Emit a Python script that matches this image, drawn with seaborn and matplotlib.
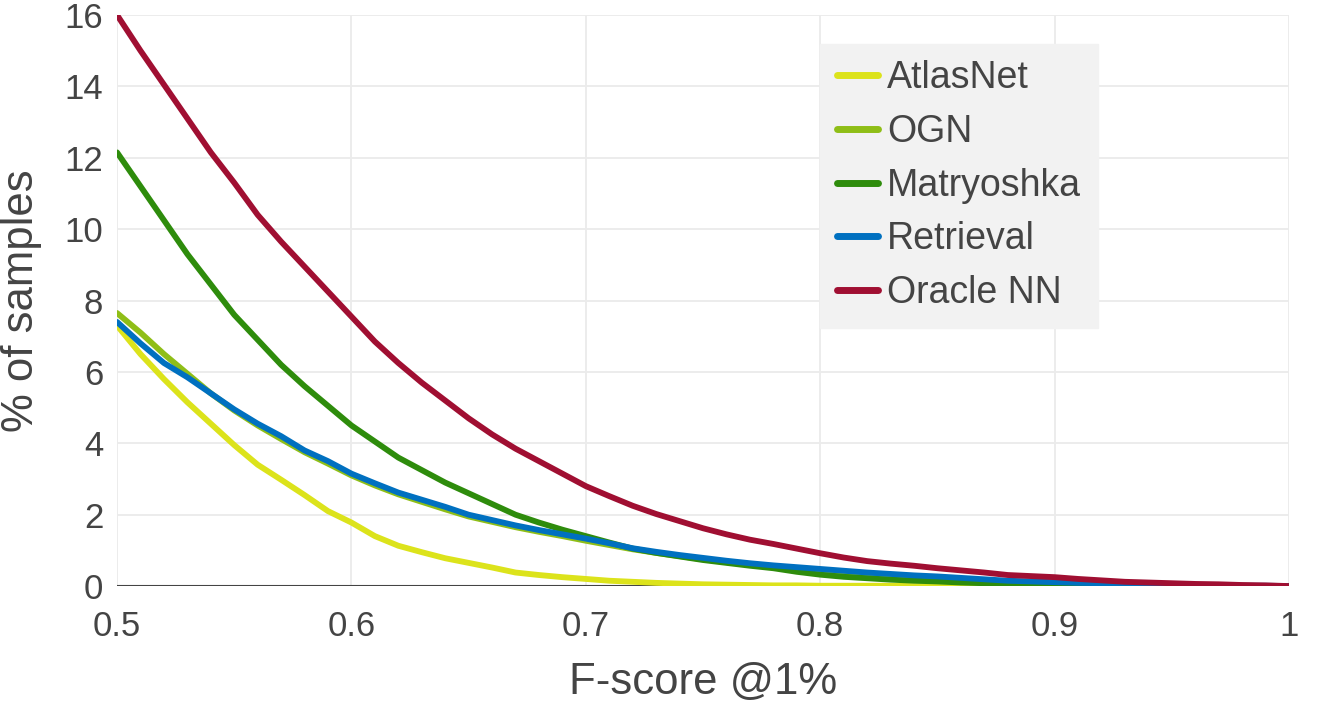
import numpy as np
import pandas as pd
import matplotlib
matplotlib.use("Agg")
import matplotlib.pyplot as plt
import seaborn as sns

fscore = [0.50, 0.51, 0.52, 0.53, 0.54, 0.55, 0.56, 0.57, 0.58, 0.59,
          0.60, 0.61, 0.62, 0.63, 0.64, 0.65, 0.66, 0.67, 0.68, 0.69,
          0.70, 0.71, 0.72, 0.73, 0.74, 0.75, 0.76, 0.77, 0.78, 0.79,
          0.80, 0.81, 0.82, 0.83, 0.84, 0.85, 0.86, 0.87, 0.88, 0.89,
          0.90, 0.91, 0.92, 0.93, 0.94, 0.95, 0.96, 0.97, 0.98, 0.99, 1.00]

atlasnet = [7.3, 6.5, 5.8, 5.15, 4.55, 3.95, 3.4, 2.98, 2.55, 2.1,
            1.78, 1.4, 1.13, 0.95, 0.78, 0.65, 0.52, 0.38, 0.31, 0.25,
            0.2, 0.15, 0.12, 0.09, 0.07, 0.05, 0.04, 0.03, 0.02, 0.02,
            0.01, 0.01, 0.01, 0.01, 0.0, 0.0, 0.0, 0.0, 0.0, 0.0,
            0.0, 0.0, 0.0, 0.0, 0.0, 0.0, 0.0, 0.0, 0.0, 0.0, 0.0]

ogn = [7.65, 7.1, 6.5, 5.95, 5.4, 4.92, 4.5, 4.12, 3.75, 3.43,
       3.1, 2.82, 2.57, 2.36, 2.15, 1.95, 1.8, 1.65, 1.52, 1.4,
       1.27, 1.15, 1.03, 0.93, 0.84, 0.75, 0.67, 0.6, 0.53, 0.47,
       0.41, 0.35, 0.3, 0.26, 0.22, 0.19, 0.16, 0.13, 0.11, 0.09,
       0.07, 0.06, 0.05, 0.04, 0.03, 0.02, 0.02, 0.01, 0.01, 0.0, 0.0]

matryoshka = [12.15, 11.2, 10.25, 9.3, 8.45, 7.6, 6.9, 6.2, 5.6, 5.05,
              4.5, 4.05, 3.6, 3.25, 2.9, 2.6, 2.3, 2.0, 1.78, 1.58,
              1.4, 1.22, 1.05, 0.93, 0.83, 0.73, 0.65, 0.57, 0.5, 0.4,
              0.32, 0.26, 0.22, 0.18, 0.15, 0.13, 0.1, 0.08, 0.07, 0.06,
              0.05, 0.04, 0.03, 0.02, 0.02, 0.01, 0.01, 0.01, 0.0, 0.0, 0.0]

retrieval = [7.4, 6.8, 6.25, 5.85, 5.4, 4.95, 4.55, 4.2, 3.8, 3.5,
             3.15, 2.88, 2.62, 2.42, 2.22, 2.0, 1.85, 1.7, 1.57, 1.45,
             1.33, 1.2, 1.06, 0.96, 0.87, 0.79, 0.71, 0.64, 0.58, 0.53,
             0.48, 0.43, 0.38, 0.34, 0.3, 0.27, 0.23, 0.19, 0.15, 0.13,
             0.11, 0.09, 0.08, 0.06, 0.05, 0.04, 0.03, 0.02, 0.01, 0.01, 0.0]

oracle_nn = [16.0, 15.0, 14.05, 13.1, 12.15, 11.3, 10.4, 9.65, 8.95, 8.25,
             7.55, 6.85, 6.25, 5.7, 5.2, 4.7, 4.25, 3.85, 3.5, 3.15,
             2.8, 2.52, 2.25, 2.02, 1.82, 1.62, 1.45, 1.3, 1.18, 1.05,
             0.92, 0.8, 0.7, 0.63, 0.57, 0.5, 0.44, 0.38, 0.31, 0.28,
             0.25, 0.2, 0.16, 0.12, 0.1, 0.08, 0.06, 0.05, 0.03, 0.02, 0.0]

series_names = ["AtlasNet", "OGN", "Matryoshka", "Retrieval", "Oracle NN"]
series_values = [atlasnet, ogn, matryoshka, retrieval, oracle_nn]
colors = ["#dce31b", "#8fbe17", "#2e8c0c", "#0070c0", "#a00f32"]

x_ticks = [0.5, 0.6, 0.7, 0.8, 0.9, 1.0]
x_tick_labels = ["0.5", "0.6", "0.7", "0.8", "0.9", "1"]
y_ticks = [0, 2, 4, 6, 8, 10, 12, 14, 16]

frames = []
for name, vals in zip(series_names, series_values):
    frames.append(pd.DataFrame({"F-score": fscore, "pct": vals, "method": name}))
df = pd.concat(frames, ignore_index=True)

sns.set_theme(style="white")
plt.rcParams['font.family'] = ['Liberation Sans', 'DejaVu Sans']

fig = plt.figure(figsize=(13.21, 7.13), dpi=100)
ax = fig.add_axes([0.0886, 0.178, 0.8872, 0.801])

text_color = "#444444"

sns.lineplot(data=df, x="F-score", y="pct", hue="method",
             hue_order=series_names, palette=colors, linewidth=4.2,
             ax=ax, legend=True, zorder=3)

ax.set_xlim(0.5, 1.0)
ax.set_ylim(0, 16)
ax.set_xticks(x_ticks)
ax.set_xticklabels(x_tick_labels)
ax.set_yticks(y_ticks)

ax.grid(True, color="#ebebeb", linewidth=1.3, zorder=0)
ax.set_axisbelow(True)
for s in ["top", "right", "left", "bottom"]:
    ax.spines[s].set_visible(False)
ax.axhline(0, color="#444444", linewidth=1.5, zorder=2)

ax.tick_params(axis="both", which="both", length=0, labelsize=25,
               labelcolor=text_color)
ax.tick_params(axis="x", pad=17)
ax.tick_params(axis="y", pad=10)

ax.set_xlabel("F-score @1%", fontsize=31.5, color=text_color, labelpad=14)
ax.set_ylabel("% of samples", fontsize=31.5, color=text_color, labelpad=16)

leg = ax.legend(loc="upper left", bbox_to_anchor=(0.5995, 0.950),
                frameon=True, fontsize=27, handlelength=1.1,
                handletextpad=0.25, labelspacing=0.47, borderpad=0.45,
                borderaxespad=0.0, fancybox=False)
leg.get_frame().set_facecolor("#f2f2f2")
leg.get_frame().set_edgecolor("#f2f2f2")
leg.get_frame().set_alpha(1.0)
for t in leg.get_texts():
    t.set_color(text_color)
for h in leg.get_lines():
    h.set_linewidth(5)

fig.savefig("out.png", dpi=100, facecolor="white")
